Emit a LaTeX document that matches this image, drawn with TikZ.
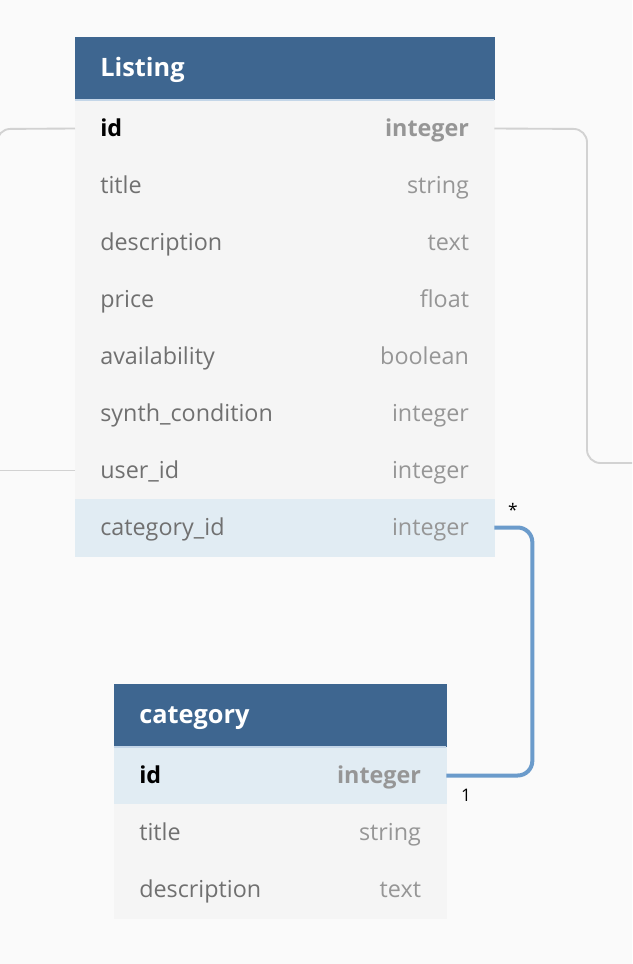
\documentclass[tikz,border=0pt]{standalone}
\usepackage{fontspec}
\setmainfont{Open Sans}
\usetikzlibrary{positioning,calc}
\definecolor{headblue}{RGB}{62,102,144}
\definecolor{headline}{RGB}{196,214,232}
\definecolor{rowgray}{RGB}{245,245,245}
\definecolor{rowhigh}{RGB}{225,236,243}
\definecolor{namegray}{RGB}{112,112,112}
\definecolor{typegray}{RGB}{150,150,150}
\definecolor{linkblue}{RGB}{107,155,203}
\definecolor{relgray}{RGB}{210,210,210}
\definecolor{canvas}{RGB}{250,250,250}

\tikzset{
    x=0.75pt, y=-0.75pt,
    tblhead/.style={
        fill=headblue, draw=headblue, line width=0.3pt,
        text=white,
        inner sep=0pt, outer sep=0pt,
        inner xsep=19pt,
        minimum height=47.25pt,
        text height=14pt, text depth=2pt,
        font=\fontsize{19}{22}\selectfont\bfseries,
        align=left
    },
    tblrow/.style={
        fill=rowgray, draw=rowgray, line width=0.3pt,
        inner sep=0pt, outer sep=0pt,
        inner xsep=19pt,
        minimum height=42.75pt,
        text height=13pt, text depth=1.5pt,
        font=\fontsize{17.5}{20}\selectfont,
        align=left
    },
    keyrow/.style={fill=rowhigh, draw=rowhigh},
    link/.style={draw=linkblue, line width=3pt, rounded corners=11pt},
    relline/.style={draw=relgray, line width=1.4pt, rounded corners=10pt},
    mult/.style={font=\fontsize{13}{15}\selectfont, inner sep=0pt}
}

\begin{document}
\begin{tikzpicture}
    \useasboundingbox (0,0) rectangle (632,964);
    \fill[canvas] (0,0) rectangle (632,964);
    \clip (0,0) rectangle (632,964);

    % Listing table
    \node[tblhead, text width=276.5pt, anchor=north west] (listing) at (75,37) {Listing};
    \node[tblrow, text width=276.5pt, below=0pt of listing] (L1)
        {\textbf{\color{black}id}\hfill\textbf{\color{typegray}integer}};
    \foreach \f/\t [count=\i from 2, remember=\i as \j (initially 1)] in
        {title/string, description/text, price/float, availability/boolean,
         synth\_condition/integer, user\_id/integer}
        \node[tblrow, text width=276.5pt, below=0pt of L\j] (L\i)
            {\color{namegray}\f\hfill\color{typegray}\t};
    \node[tblrow, keyrow, text width=276.5pt, below=0pt of L7] (L8)
        {\color{namegray}category\_id\hfill\color{typegray}integer};
    \draw[headline, line width=0.8pt] (listing.south west) -- (listing.south east);

    % category table
    \node[tblhead, text width=211.25pt, anchor=north west] (category) at (114,684) {category};
    \node[tblrow, keyrow, text width=211.25pt, below=0pt of category] (C1)
        {\textbf{\color{black}id}\hfill\textbf{\color{typegray}integer}};
    \node[tblrow, text width=211.25pt, below=0pt of C1] (C2)
        {\color{namegray}title\hfill\color{typegray}string};
    \node[tblrow, text width=211.25pt, below=0pt of C2] (C3)
        {\color{namegray}description\hfill\color{typegray}text};
    \draw[headline, line width=0.8pt] (category.south west) -- (category.south east);

    % relations to tables outside the view
    \coordinate (outright) at (650,463);
    \coordinate (outleft) at (-30,0);
    \draw[relline] (L1.east) -- (587,129) -- (587,463) -- (outright);
    \draw[relline] (L1.west) -- (-3,129) -- (-3,300);
    \draw[relline] (L7.west) -- (L7.west -| outleft);

    % category_id -> id
    \draw[link] (L8.east) -- ++(38,0) |- (C1.east);
    \node[mult] (many) at (513,510) {*};
    \node[mult] (one) at (466,795) {1};
\end{tikzpicture}
\end{document}
